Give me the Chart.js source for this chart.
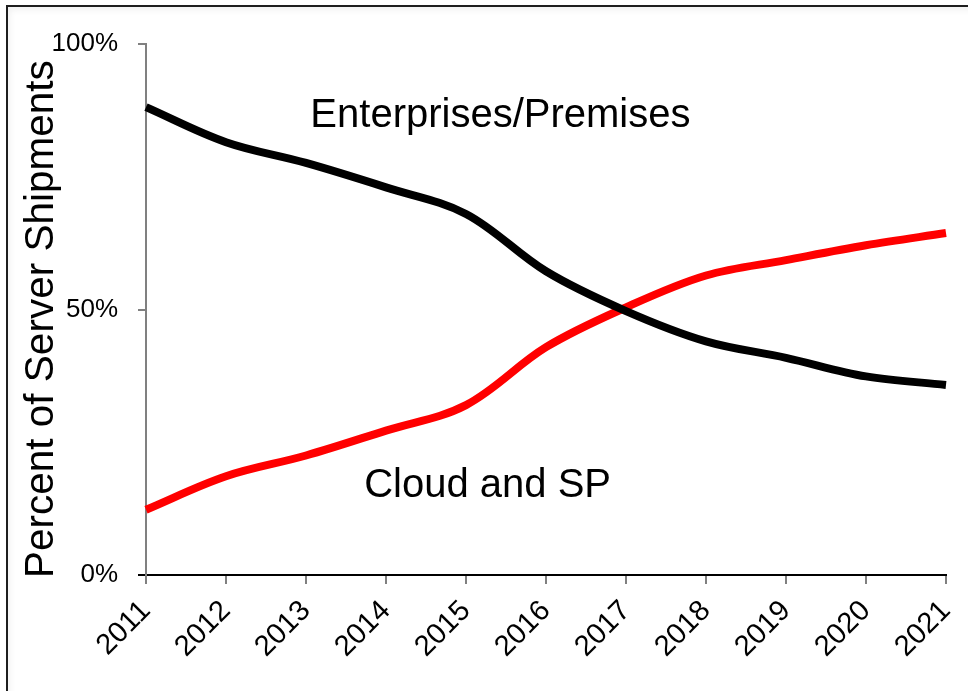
<!DOCTYPE html>
<html>
<head>
<meta charset="utf-8">
<script src="https://cdn.jsdelivr.net/npm/chart.js@4"></script>
<style>
html,body{margin:0;padding:0;background:#fff;}
#wrap{position:relative;width:968px;height:691px;overflow:hidden;}
#c{position:absolute;left:0;top:0;}
#frame{position:absolute;left:6px;top:5px;right:-10px;bottom:-10px;border-top:2px solid #1e1e1e;border-left:2px solid #1e1e1e;box-shadow:inset 2px 3px 6px rgba(0,0,0,0.06);pointer-events:none;}
</style>
</head>
<body>
<div id="wrap">
<canvas id="c" width="968" height="691"></canvas>
<div id="frame"></div>
</div>
<script>
const years = ['2011','2012','2013','2014','2015','2016','2017','2018','2019','2020','2021'];
const enterprises = [88.1, 81.5, 77.6, 73.0, 68.0, 57.2, 49.7, 44.0, 40.9, 37.4, 35.8];
const cloudSP = [12.3, 18.6, 22.5, 27.2, 32.0, 42.9, 50.4, 56.4, 59.3, 62.1, 64.4];
const yTicks = [0, 50, 100];
const seriesLabels = ['Enterprises/Premises', 'Cloud and SP'];
const yTitle = 'Percent of Server Shipments';
const labelPos = [
  {text: seriesLabels[0], x: 4.43, y: 84.4},
  {text: seriesLabels[1], x: 4.27, y: 14.6}
];

const FONT = '"Liberation Sans", Arial, Helvetica, sans-serif';

const textPlugin = {
  id: 'seriesText',
  afterDatasetsDraw(chart) {
    const ctx = chart.ctx;
    const xs = chart.scales.x, ys = chart.scales.y;
    ctx.save();
    ctx.fillStyle = '#000';
    ctx.font = '40px ' + FONT;
    ctx.textAlign = 'center';
    ctx.textBaseline = 'alphabetic';
    labelPos.forEach(l => {
      ctx.fillText(l.text, xs.getPixelForValue(l.x), ys.getPixelForValue(l.y));
    });
    // y-axis title
    ctx.font = '40.5px ' + FONT;
    ctx.textAlign = 'left';
    ctx.translate(53, 578);
    ctx.rotate(-Math.PI / 2);
    ctx.fillText(yTitle, 0, 0);
    ctx.restore();
  }
};

new Chart(document.getElementById('c'), {
  type: 'line',
  data: {
    labels: years,
    datasets: [
      {label: seriesLabels[0], data: enterprises, borderColor: '#000', borderWidth: 8, pointRadius: 0, tension: 0.35, fill: false, borderCapStyle: 'butt'},
      {label: seriesLabels[1], data: cloudSP, borderColor: '#ff0000', borderWidth: 8, pointRadius: 0, tension: 0.35, fill: false, borderCapStyle: 'butt'}
    ]
  },
  options: {
    responsive: false,
    animation: false,
    events: [],
    layout: {padding: {left: 0, top: 44, right: 22, bottom: 0}},
    plugins: {legend: {display: false}, tooltip: {enabled: false}},
    scales: {
      x: {
        type: 'category',
        offset: false,
        grid: {display: true, drawOnChartArea: false, drawTicks: true, tickLength: 9, color: '#808080', lineWidth: 2},
        border: {display: true, color: '#000', width: 2},
        ticks: {color: '#000', font: {family: FONT, size: 29}, maxRotation: 45, minRotation: 45, padding: 10, autoSkip: false},
        afterFit(s) { s.height = 116; s.paddingLeft = 0; s.paddingRight = 0; }
      },
      y: {
        min: 0, max: 100,
        afterBuildTicks(s) { s.ticks = yTicks.map(v => ({value: v})); },
        grid: {display: true, drawOnChartArea: false, drawTicks: true, tickLength: 8,
               color: c => (c.tick && c.tick.value === 0) ? '#000' : '#808080', lineWidth: 2},
        border: {display: true, color: '#808080', width: 2},
        ticks: {color: '#000', font: {family: FONT, size: 26}, padding: 20, callback: v => v + '%'},
        title: {display: false},
        afterFit(s) { s.width = 146; s.paddingTop = 0; s.paddingBottom = 0; }
      }
    }
  },
  plugins: [textPlugin]
});
</script>
</body>
</html>
